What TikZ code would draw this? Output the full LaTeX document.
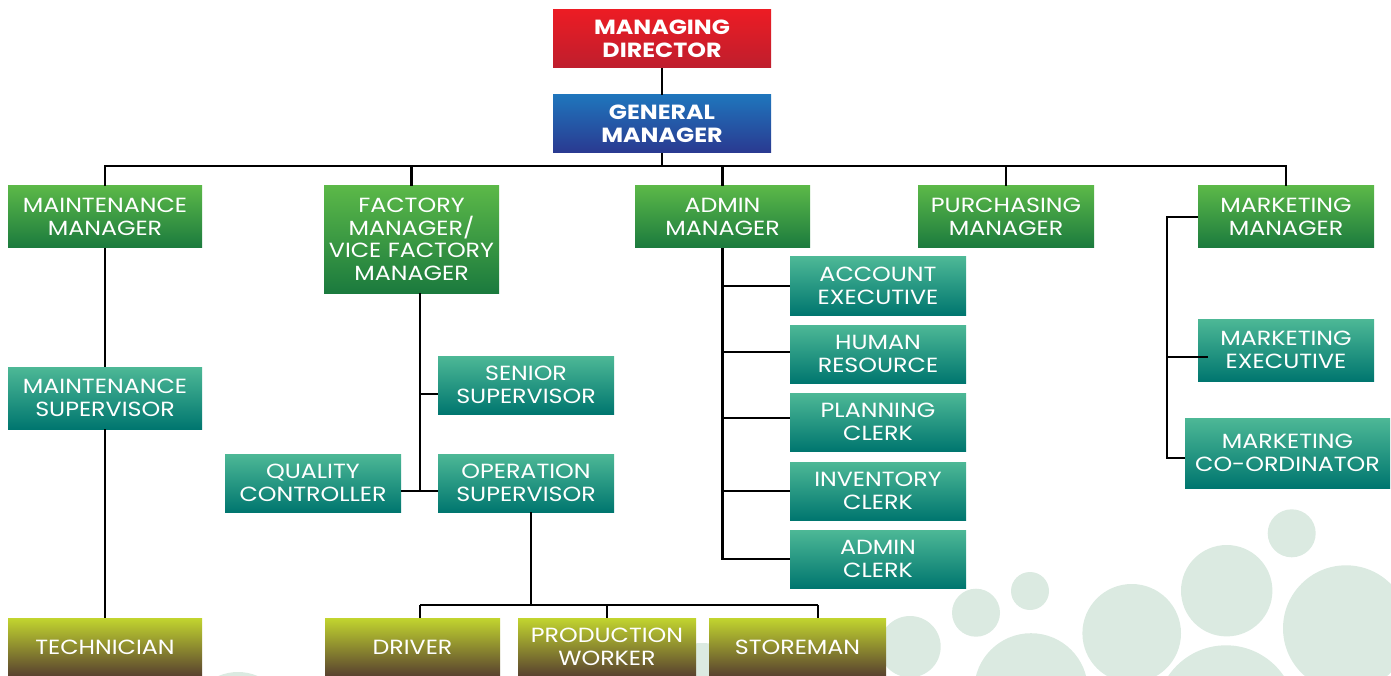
\documentclass[tikz,border=0pt]{standalone}
\usepackage{fontspec}
\setmainfont{Poppins}[FakeStretch=1.16]
\definecolor{redT}{HTML}{EC1C24}
\definecolor{redB}{HTML}{BE1E2D}
\definecolor{bluT}{HTML}{1F75BC}
\definecolor{bluB}{HTML}{2A3990}
\definecolor{grnT}{HTML}{5BB848}
\definecolor{grnB}{HTML}{1B7A3E}
\definecolor{tealT}{HTML}{4DB896}
\definecolor{tealB}{HTML}{00766F}
\definecolor{olvT}{HTML}{C2D52F}
\definecolor{olvB}{HTML}{58412F}
\definecolor{bub}{HTML}{DBEAE1}
\begin{document}
\begin{tikzpicture}[x=1pt,y=-1pt,
  box/.style={rectangle, inner sep=0pt, text=white, align=center,
    font=\fontsize{20.5}{22.5}\selectfont},
  topbox/.style={box, font=\fontsize{20.5}{22.5}\selectfont\bfseries},
  redbox/.style={topbox, top color=redT, bottom color=redB},
  blubox/.style={topbox, top color=bluT, bottom color=bluB},
  grnbox/.style={box, top color=grnT, bottom color=grnB},
  tealbox/.style={box, top color=tealT, bottom color=tealB},
  olvbox/.style={box, top color=olvT, bottom color=olvB},
  sz/.style n args={2}{minimum width=#1pt, minimum height=#2pt},
  link/.style={draw=black, line width=2.4pt},
  thin/.style={draw=black, line width=1.2pt},
  bubble/.style={fill=bub, draw=none}]
\useasboundingbox (0,0) rectangle (1391,676);
% background bubbles
\fill[bubble] (1291.7,533.3) circle (24);
\fill[bubble] (1226.7,590.7) circle (45.7);
\fill[bubble] (1346,628.3) circle (63);
\fill[bubble] (1131.7,633.3) circle (49.3);
\fill[bubble] (1030,591) circle (19);
\fill[bubble] (976,612.7) circle (24);
\fill[bubble] (910,646.7) circle (30.7);
\fill[bubble] (1031,690) circle (56.8);
\fill[bubble] (1226,715) circle (69.7);
\fill[bubble] (238,722) circle (50);
\fill[bubble] (702,700) circle (57);
% top
\node[redbox, sz={218}{58}] (md) at (662,39) {MANAGING\\DIRECTOR};
\node[blubox, sz={218}{58}] (gm) at (662,124) {GENERAL\\MANAGER};
% managers
\node[grnbox, sz={194}{62}] (mainm) at (105,217) {MAINTENANCE\\MANAGER};
\node[grnbox, sz={175}{107}] (fm) at (411.5,239.5) {FACTORY\\MANAGER/\\VICE FACTORY\\MANAGER};
\node[grnbox, sz={175}{62}] (am) at (722.5,217) {ADMIN\\MANAGER};
\node[grnbox, sz={176}{62}] (pm) at (1006,217) {PURCHASING\\MANAGER};
\node[grnbox, sz={176}{62}] (mktm) at (1286,217) {MARKETING\\MANAGER};
% maintenance line
\node[tealbox, sz={194}{62}] (mains) at (105,398) {MAINTENANCE\\SUPERVISOR};
\node[olvbox, sz={194}{58}] (tech) at (105,647) {TECHNICIAN};
% factory line
\node[tealbox, sz={176}{58}] (ss) at (526,385) {SENIOR\\SUPERVISOR};
\node[tealbox, sz={176}{58}] (qc) at (313,483) {QUALITY\\CONTROLLER};
\node[tealbox, sz={176}{58}] (os) at (526,483) {OPERATION\\SUPERVISOR};
\node[olvbox, sz={175}{58}] (drv) at (412.5,647) {DRIVER};
\node[olvbox, sz={178}{58}] (pw) at (607,647) {PRODUCTION\\WORKER};
\node[olvbox, sz={177}{58}] (sto) at (797.5,647) {STOREMAN};
% admin line
\node[tealbox, sz={176}{58}] (acc) at (878,286) {ACCOUNT\\EXECUTIVE};
\node[tealbox, sz={176}{58}] (hr) at (878,354) {HUMAN\\RESOURCE};
\node[tealbox, sz={176}{58}] (pc) at (878,422) {PLANNING\\CLERK};
\node[tealbox, sz={176}{58}] (ic) at (878,491) {INVENTORY\\CLERK};
\node[tealbox, sz={176}{58}] (ac) at (878,559) {ADMIN\\CLERK};
% marketing line
\node[tealbox, sz={176}{62}] (mexec) at (1286,350) {MARKETING\\EXECUTIVE};
\node[tealbox, sz={205}{70}] (mco) at (1287.5,453) {MARKETING\\CO-ORDINATOR};
% connectors
\coordinate (busy) at (0,166);
\draw[link] (md) -- (gm);
\draw[link] (gm.south) -- (gm.south |- busy);
\draw[link] (mainm.north) |- (mktm.north |- busy) -- (mktm.north);
\draw[link] (fm.north) -- (fm.north |- busy);
\draw[link] (am.north) -- (am.north |- busy);
\draw[link] (pm.north) -- (pm.north |- busy);
\draw[link] (mainm) -- (mains);
\draw[link] (mains) -- (tech);
% factory
\coordinate (fx) at ([xshift=8.5pt]fm.south);
\draw[link] (fx) -- (fx |- 0,491);
\draw[link] (fx |- 0,394) -- (ss.west |- 0,394);
\draw[link] (qc.east |- 0,491) -- (os.west |- 0,491);
% operation supervisor
\coordinate (ox) at ([xshift=5pt]os.south);
\coordinate (oby) at (0,605);
\draw[link] (ox) -- (ox |- oby);
\draw[link] (fx |- oby) -- (818,605);
\draw[link] (fx |- oby) -- (fx |- drv.north);
\draw[link] (818,605) -- (818,618);
\draw[thin] (pw.north |- oby) -- (pw.north);
% admin
\draw[link] (am.south) |- (ac.west);
\draw[link] (am.south |- acc.west) -- (acc.west);
\draw[link] ([yshift=2pt]am.south |- hr.west) -- ([yshift=2pt]hr.west);
\draw[link] ([yshift=4pt]am.south |- pc.west) -- ([yshift=4pt]pc.west);
\draw[link] (am.south |- ic.west) -- (ic.west);
% marketing
\coordinate (mkx) at ([xshift=-31pt]mktm.west);
\draw[link] (mktm.west) -- (mkx) |- ([yshift=-5pt]mco.west);
\draw[thin, line width=1.6pt] (mkx |- 0,357) -- ([xshift=10pt]mexec.west |- 0,357);
\end{tikzpicture}
\end{document}
